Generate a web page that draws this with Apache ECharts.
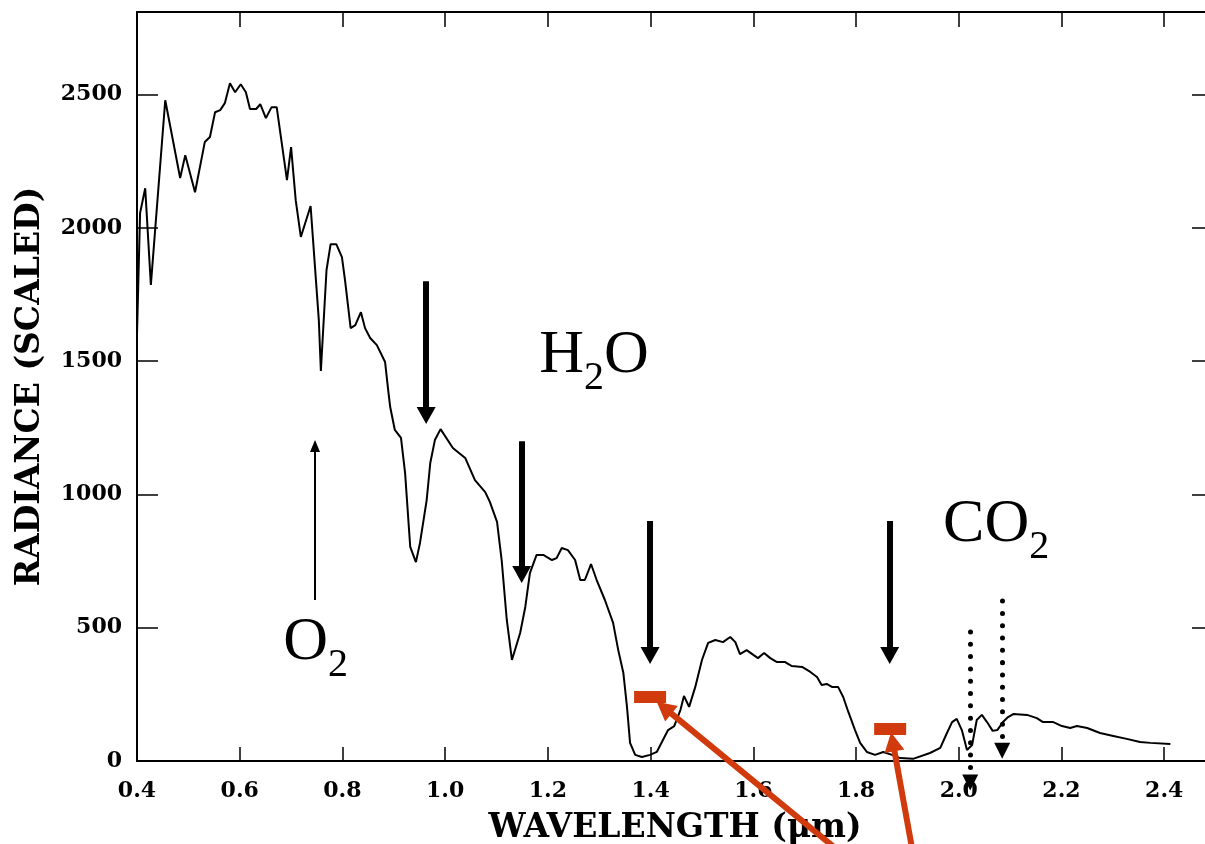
<!DOCTYPE html>
<html>
<head>
<meta charset="utf-8">
<script src="https://cdn.jsdelivr.net/npm/echarts@6/dist/echarts.min.js"></script>
<style>
  html, body { margin: 0; padding: 0; background: #ffffff; }
  #chart { width: 1205px; height: 844px; }
</style>
</head>
<body>
<div id="chart"></div>
<script>
// Solar radiance spectrum seen through the atmosphere (scaled units)
const wavelength = [
  0.400, 0.406, 0.416, 0.427, 0.455, 0.484, 0.494, 0.513, 0.532, 0.542,
  0.552, 0.562, 0.571, 0.581, 0.591, 0.602, 0.612, 0.620, 0.632, 0.640,
  0.651, 0.662, 0.672, 0.692, 0.700, 0.709, 0.719, 0.738, 0.754, 0.758,
  0.769, 0.777, 0.788, 0.799, 0.805, 0.816, 0.825, 0.836, 0.844, 0.854,
  0.867, 0.883, 0.889, 0.893, 0.902, 0.914, 0.922, 0.932, 0.943, 0.951,
  0.964, 0.971, 0.980, 0.991, 1.015, 1.039, 1.058, 1.078, 1.087, 1.101,
  1.110, 1.120, 1.130, 1.146, 1.156, 1.165, 1.178, 1.191, 1.208, 1.217,
  1.227, 1.239, 1.253, 1.263, 1.272, 1.284, 1.295, 1.311, 1.327, 1.337,
  1.347, 1.354, 1.360, 1.370, 1.383, 1.399, 1.412, 1.422, 1.434, 1.446,
  1.458, 1.465, 1.475, 1.487, 1.500, 1.512, 1.526, 1.541, 1.555, 1.565,
  1.574, 1.587, 1.600, 1.609, 1.621, 1.633, 1.646, 1.662, 1.675, 1.695,
  1.711, 1.724, 1.733, 1.743, 1.753, 1.765, 1.775, 1.785, 1.798, 1.808,
  1.821, 1.837, 1.853, 1.870, 1.886, 1.911, 1.944, 1.964, 1.977, 1.987,
  1.996, 2.006, 2.016, 2.026, 2.035, 2.045, 2.055, 2.066, 2.075, 2.086,
  2.096, 2.106, 2.133, 2.152, 2.164, 2.184, 2.201, 2.217, 2.230, 2.250,
  2.275, 2.301, 2.327, 2.353, 2.373, 2.412
];
const radiance = [
  1600, 2056, 2149, 1786, 2479, 2187, 2273, 2134, 2322, 2341,
  2434, 2442, 2468, 2543, 2509, 2539, 2509, 2446, 2446, 2464,
  2412, 2453, 2453, 2179, 2303, 2104, 1966, 2082, 1654, 1463,
  1842, 1939, 1939, 1890, 1804, 1624, 1635, 1684, 1624, 1587,
  1560, 1497, 1392, 1328, 1242, 1212, 1080, 803, 746, 818,
  979, 1118, 1204, 1245, 1174, 1137, 1054, 1009, 972, 897,
  754, 529, 379, 480, 578, 705, 773, 773, 754, 761,
  799, 791, 754, 679, 679, 739, 679, 604, 518, 416,
  330, 203, 68, 23, 15, 23, 34, 71, 116, 131,
  191, 244, 203, 278, 379, 443, 454, 446, 465, 446,
  401, 416, 398, 386, 405, 386, 371, 371, 356, 353,
  334, 315, 285, 289, 278, 278, 240, 184, 116, 68,
  34, 23, 34, 23, 11, 8, 30, 49, 105, 146,
  158, 116, 41, 60, 154, 173, 146, 113, 116, 146,
  165, 176, 173, 161, 146, 146, 131, 124, 131, 124,
  105, 94, 83, 71, 68, 64
];

const xTicks = [0.4, 0.6, 0.8, 1.0, 1.2, 1.4, 1.6, 1.8, 2.0, 2.2, 2.4];
const yTicks = [0, 500, 1000, 1500, 2000, 2500];

// Absorption markers: [wavelength, radiance at tail, radiance at head]
const h2oArrows = [[0.963, 1800, 1296], [1.149, 1200, 700], [1.399, 900, 396], [1.8655, 900, 396]];
const o2Arrows = [[0.7466, 604, 1182]];
const co2Arrows = [[2.0222, 484, -81], [2.0845, 600, 38]];
// Band positions of the sensor channels: [wavelength, radiance]
const bandMarks = [[1.399, 240], [1.8664, 120]];
// Pointers to the channels: [tail wavelength, tail radiance, head wavelength, head radiance]
const pointerArrows = [[1.7875, -371, 1.4263, 200], [1.9131, -371, 1.8715, 72]];
// Molecule labels: [formula head, subscript, formula tail, wavelength, radiance]
const gasLabels = [
  ['H', '2', 'O', 1.290, 1519],
  ['O', '2', '', 0.7476, 443],
  ['CO', '2', '', 2.0728, 885]
];

const BLACK = '#000000';
const RED = '#d03a0c';
const TICK_FONT = 'DejaVu Serif';
const LABEL_FONT = 'Liberation Serif';

const chart = echarts.init(document.getElementById('chart'), null, { renderer: 'canvas' });

const axisLine = { show: true, onZero: false, lineStyle: { color: BLACK, width: 2 } };
const tickLine = { color: BLACK, width: 1.5 };

chart.setOption({
  animation: false,
  backgroundColor: '#ffffff',
  grid: { left: 137, top: 12, width: 1076, height: 749, containLabel: false, outerBoundsMode: 'none' },
  xAxis: [
    {
      type: 'value', position: 'bottom', min: 0.4, max: 2.495, interval: 0.2,
      axisLine: axisLine,
      axisTick: { show: true, inside: true, length: 14, lineStyle: tickLine, customValues: xTicks },
      axisLabel: {
        show: true, margin: 19, customValues: xTicks,
        formatter: v => v.toFixed(1),
        fontFamily: TICK_FONT, fontWeight: 'bold', fontSize: 22, color: BLACK
      },
      splitLine: { show: false },
      name: 'WAVELENGTH (μm)', nameLocation: 'middle', nameGap: 51,
      nameTextStyle: { fontFamily: TICK_FONT, fontWeight: 'bold', fontSize: 33, color: BLACK }
    },
    {
      type: 'value', position: 'top', min: 0.4, max: 2.495, interval: 0.2,
      axisLine: axisLine,
      axisTick: { show: true, inside: true, length: 15, lineStyle: tickLine, customValues: xTicks },
      axisLabel: { show: false },
      splitLine: { show: false }
    }
  ],
  yAxis: [
    {
      type: 'value', position: 'left', min: 0, max: 2810, interval: 500,
      axisLine: axisLine,
      axisTick: { show: true, inside: true, length: 21, lineStyle: tickLine, customValues: yTicks },
      axisLabel: {
        show: true, margin: 15, customValues: yTicks,
        formatter: v => String(v),
        fontFamily: TICK_FONT, fontWeight: 'bold', fontSize: 22, color: BLACK
      },
      splitLine: { show: false },
      name: 'RADIANCE (SCALED)', nameLocation: 'middle', nameGap: 90,
      nameTextStyle: { fontFamily: TICK_FONT, fontWeight: 'bold', fontSize: 33, color: BLACK }
    },
    {
      type: 'value', position: 'right', min: 0, max: 2810, interval: 500,
      axisLine: axisLine,
      axisTick: { show: true, inside: true, length: 21, lineStyle: tickLine, customValues: yTicks },
      axisLabel: { show: false },
      splitLine: { show: false }
    }
  ],
  series: [
    {
      name: 'Radiance',
      type: 'line',
      data: wavelength.map((w, i) => [w, radiance[i]]),
      showSymbol: false,
      smooth: false,
      silent: true,
      lineStyle: { color: BLACK, width: 2 },
      z: 3
    }
  ]
});

// Annotation arrows may reach below the plot, so their ends are placed
// through the axis scales as pixel positions.
const toPx = (x, y) => chart.convertToPixel({ xAxisIndex: 0, yAxisIndex: 0 }, [x, y]);

function arrow(x0, y0, x1, y1, headW, headH) {
  const a = toPx(x0, y0);
  const b = toPx(x1, y1);
  return [
    { x: a[0], y: a[1], symbol: 'none' },
    { x: b[0], y: b[1], symbol: 'triangle', symbolSize: [headW, headH] }
  ];
}

function markLineSeries(name, pairs, lineStyle) {
  return {
    name: name,
    type: 'line',
    data: [],
    clip: false,
    silent: true,
    z: 4,
    markLine: {
      silent: true,
      animation: false,
      symbol: ['none', 'triangle'],
      label: { show: false },
      emphasis: { disabled: true },
      lineStyle: lineStyle,
      data: pairs
    }
  };
}

chart.setOption({
  series: [
    {},
    markLineSeries('H2O absorption', h2oArrows.map(a => arrow(a[0], a[1], a[0], a[2], 19, 17)),
      { color: BLACK, width: 6, type: 'solid' }),
    markLineSeries('O2 absorption', o2Arrows.map(a => arrow(a[0], a[1], a[0], a[2], 10, 12)),
      { color: BLACK, width: 2, type: 'solid' }),
    markLineSeries('CO2 absorption', co2Arrows.map(a => arrow(a[0], a[1], a[0], a[2], 16, 16)),
      { color: BLACK, width: 5, type: [0.01, 12.3], cap: 'round' }),
    {
      name: 'Channels',
      type: 'line',
      data: [],
      clip: false,
      silent: true,
      z: 4,
      markPoint: {
        silent: true,
        animation: false,
        symbol: 'rect',
        symbolSize: [32, 12],
        itemStyle: { color: RED },
        label: { show: false },
        data: bandMarks.map(b => ({ coord: [b[0], b[1]] }))
      }
    },
    markLineSeries('Channel pointers', pointerArrows.map(p => arrow(p[0], p[1], p[2], p[3], 20, 19)),
      { color: RED, width: 6, type: 'solid' }),
    {
      name: 'Molecules',
      type: 'line',
      data: [],
      clip: false,
      silent: true,
      z: 4,
      markPoint: {
        silent: true,
        animation: false,
        symbol: 'circle',
        symbolSize: 1,
        itemStyle: { color: 'rgba(0,0,0,0)' },
        label: {
          show: true,
          position: 'inside',
          formatter: p => {
            const g = gasLabels[p.dataIndex];
            return '{m|' + g[0] + '}{s|' + g[1] + '}' + (g[2] ? '{m|' + g[2] + '}' : '');
          },
          rich: {
            m: { fontFamily: LABEL_FONT, fontSize: 62, lineHeight: 62, color: BLACK },
            s: { fontFamily: LABEL_FONT, fontSize: 40, lineHeight: 40, color: BLACK, padding: [45, 0, 0, 0] }
          }
        },
        data: gasLabels.map(g => ({ coord: [g[3], g[4]] }))
      }
    }
  ]
});
</script>
</body>
</html>
